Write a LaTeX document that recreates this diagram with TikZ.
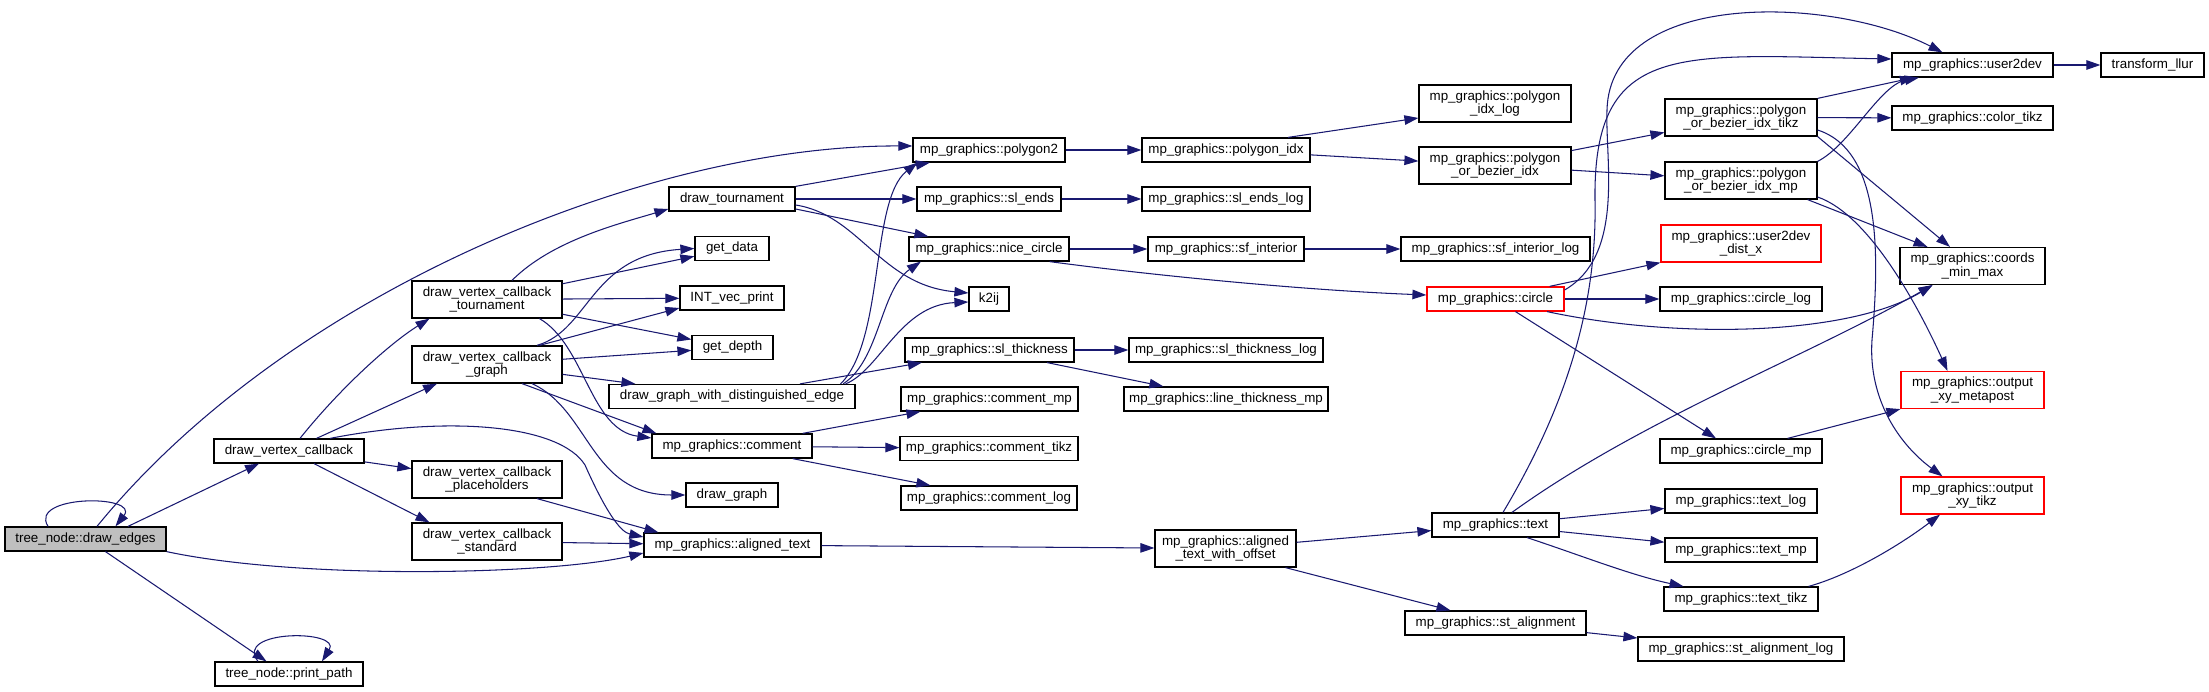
\documentclass[tikz,border=0pt]{standalone}
\usepackage{fontspec}
\setmainfont{Liberation Sans}
\usetikzlibrary{arrows.meta}
\definecolor{edgeblue}{HTML}{191970}
\begin{document}
\begin{tikzpicture}[
    x=0.02cm, y=-0.02cm,
    font=\fontsize{7.6}{7.7}\selectfont,
    func/.style={draw, line width=0.7pt, minimum height=0.48cm, inner xsep=0.08cm, inner ysep=0pt, fill=white},
    func2/.style={func, align=center, minimum height=0.74cm},
    cur/.style={func, fill=black!25},
    trunc/.style={func, draw=red},
    trunc2/.style={func2, draw=red},
    arr/.style={-{Triangle[length=0.28cm, width=0.19cm]}, line width=0.6pt, edgeblue}
]
\useasboundingbox (0,0) rectangle (2209,692);

\node[cur, minimum width=3.22cm] (de) at (85.5,539) {tree\_node::draw\_edges};
\node[func, minimum width=3cm] (dvc) at (289,451) {draw\_vertex\_callback};
\node[func, minimum width=2.96cm] (pp) at (289,674) {tree\_node::print\_path};
\node[func2, minimum width=3cm] (dvct) at (487,299.5) {draw\_vertex\_callback\\\_tournament};
\node[func2, minimum width=3cm] (dvcg) at (487,364.5) {draw\_vertex\_callback\\\_graph};
\node[func2, minimum width=3cm] (dvcp) at (487,479.5) {draw\_vertex\_callback\\\_placeholders};
\node[func2, minimum width=3cm] (dvcs) at (487,541.5) {draw\_vertex\_callback\\\_standard};
\node[func, minimum width=2.52cm] (tour) at (732,199) {draw\_tournament};
\node[func, minimum width=1.48cm] (gd) at (732,248.5) {get\_data};
\node[func, minimum width=2.08cm] (ivp) at (732,298) {INT\_vec\_print};
\node[func, minimum width=1.62cm] (gdep) at (732.5,347.5) {get\_depth};
\node[func, minimum width=4.92cm] (dgde) at (732,396.5) {draw\_graph\_with\_distinguished\_edge};
\node[func, minimum width=3.2cm] (com) at (732,446) {mp\_graphics::comment};
\node[func, minimum width=1.84cm] (dg) at (732,495) {draw\_graph};
\node[func, minimum width=3.54cm] (atxt) at (732.5,545) {mp\_graphics::aligned\_text};
\node[func, minimum width=3.04cm] (poly2) at (989,150) {mp\_graphics::polygon2};
\node[func, minimum width=2.88cm] (sle) at (989,199) {mp\_graphics::sl\_ends};
\node[func, minimum width=3.2cm] (nc) at (989,249) {mp\_graphics::nice\_circle};
\node[func, minimum width=0.8cm] (k2ij) at (989,299) {k2ij};
\node[func, minimum width=3.38cm] (slt) at (989.5,350) {mp\_graphics::sl\_thickness};
\node[func, minimum width=3.54cm] (cmp) at (989.5,399) {mp\_graphics::comment\_mp};
\node[func, minimum width=3.56cm] (ctikz) at (989,448.5) {mp\_graphics::comment\_tikz};
\node[func, minimum width=3.52cm] (clog) at (989,498) {mp\_graphics::comment\_log};
\node[func, minimum width=3.36cm] (pidx) at (1226,150) {mp\_graphics::polygon\_idx};
\node[func, minimum width=3.36cm] (slelog) at (1226,199) {mp\_graphics::sl\_ends\_log};
\node[func, minimum width=3.12cm] (sfi) at (1226,249) {mp\_graphics::sf\_interior};
\node[func, minimum width=3.88cm] (sltlog) at (1226,350) {mp\_graphics::sl\_thickness\_log};
\node[func, minimum width=4.08cm] (ltmp) at (1226,399) {mp\_graphics::line\_thickness\_mp};
\node[func2, minimum width=2.82cm] (atwo) at (1225.5,548.5) {mp\_graphics::aligned\\\_text\_with\_offset};
\node[func2, minimum width=3.04cm] (pidxlog) at (1495,103.5) {mp\_graphics::polygon\\\_idx\_log};
\node[func2, minimum width=3.04cm] (pobi) at (1495,165.5) {mp\_graphics::polygon\\\_or\_bezier\_idx};
\node[func, minimum width=3.78cm] (sfilog) at (1495.5,249) {mp\_graphics::sf\_interior\_log};
\node[trunc, minimum width=2.74cm] (circ) at (1495.5,299) {mp\_graphics::circle};
\node[func, minimum width=2.54cm] (txt) at (1495.5,525) {mp\_graphics::text};
\node[func, minimum width=3.62cm] (sta) at (1495.5,623) {mp\_graphics::st\_alignment};
\node[func2, minimum width=3.04cm] (pobitikz) at (1741,117.5) {mp\_graphics::polygon\\\_or\_bezier\_idx\_tikz};
\node[func2, minimum width=3.04cm] (pobimp) at (1741,180.5) {mp\_graphics::polygon\\\_or\_bezier\_idx\_mp};
\node[trunc2, minimum width=3.2cm] (u2ddx) at (1741,243.5) {mp\_graphics::user2dev\\\_dist\_x};
\node[func, minimum width=3.24cm] (clg) at (1741,299) {mp\_graphics::circle\_log};
\node[func, minimum width=3.24cm] (cmpc) at (1741,451) {mp\_graphics::circle\_mp};
\node[func, minimum width=3.04cm] (tlog) at (1741,501) {mp\_graphics::text\_log};
\node[func, minimum width=3.04cm] (tmp) at (1741,550) {mp\_graphics::text\_mp};
\node[func, minimum width=3.08cm] (ttikz) at (1741,599) {mp\_graphics::text\_tikz};
\node[func, minimum width=4.12cm] (stalog) at (1741,649) {mp\_graphics::st\_alignment\_log};
\node[func, minimum width=3.22cm] (u2d) at (1972.5,65) {mp\_graphics::user2dev};
\node[func, minimum width=3.22cm] (coltikz) at (1972.5,118) {mp\_graphics::color\_tikz};
\node[func2, minimum width=2.9cm] (cmm) at (1972.5,266) {mp\_graphics::coords\\\_min\_max};
\node[trunc2, minimum width=2.86cm] (oxymp) at (1972.5,390) {mp\_graphics::output\\\_xy\_metapost};
\node[trunc2, minimum width=2.86cm] (oxytikz) at (1972.5,495.5) {mp\_graphics::output\\\_xy\_tikz};
\node[func, minimum width=2.06cm] (tllur) at (2152.5,65) {transform\_llur};

\draw[arr] ([xshift=-0.75cm]de.north) .. controls +(-20,-32) and +(25,-32) .. ([xshift=0.6cm]de.north);
\draw[arr] ([xshift=0.23cm]de.north) .. controls (290,290) and (650,145) .. ([yshift=0.08cm]poly2.west);
\draw[arr] ([xshift=0.85cm]de.north) -- ([xshift=-0.6cm]dvc.south);
\draw[arr] (de.south east) .. controls (300,580) and (550,575) .. ([yshift=-0.16cm]atxt.west);
\draw[arr] ([xshift=0.4cm]de.south) -- ([xshift=-0.45cm]pp.north);
\draw[arr] ([xshift=-0.62cm]pp.north) .. controls +(-25,-32) and +(20,-32) .. ([xshift=0.66cm]pp.north);

\draw[arr] ([xshift=0.22cm]dvc.north) .. controls +(40,-50) and +(-40,25) .. ([xshift=-1.15cm]dvct.south);
\draw[arr] ([xshift=0.55cm]dvc.north) -- ([xshift=-1cm]dvcg.south);
\draw[arr] ([xshift=0.82cm]dvc.north) .. controls (450,415) and (560,425) .. (585,465) .. controls (605,510) and (620,532) .. ([yshift=0.16cm]atxt.west);
\draw[arr] (dvc) -- (dvcp);
\draw[arr] ([xshift=0.5cm]dvc.south) -- ([xshift=-1.15cm]dvcs.north);

\draw[arr] ([xshift=0.5cm]dvct.north) .. controls +(40,-40) and +(-50,15) .. ([yshift=-0.2cm]tour.west);
\draw[arr] (dvct) -- (gd);
\draw[arr] (dvct) -- (ivp);
\draw[arr] (dvct) -- (gdep);
\draw[arr] ([xshift=1.05cm]dvct.south) .. controls (585,345) and (590,430) .. ([yshift=0.16cm]com.west);

\draw[arr] ([xshift=1cm]dvcg.north) .. controls (590,330) and (590,255) .. (gd.west);
\draw[arr] ([xshift=1.05cm]dvcg.north) -- ([yshift=-0.2cm]ivp.west);
\draw[arr] (dvcg) -- (gdep);
\draw[arr] (dvcg) -- (dgde);
\draw[arr] ([xshift=0.7cm]dvcg.south) -- ([xshift=0.1cm]com.north west);
\draw[arr] ([xshift=0.9cm]dvcg.south) .. controls (590,410) and (590,495) .. (dg.west);
\draw[arr] ([xshift=1cm]dvcp.south) -- ([xshift=0.3cm]atxt.north west);
\draw[arr] (dvcs) -- (atxt);

\draw[arr] (tour.north east) -- ([xshift=0.35cm]poly2.south west);
\draw[arr] (tour) -- (sle);
\draw[arr] ([yshift=-0.2cm]tour.east) -- ([xshift=0.4cm]nc.north west);
\draw[arr] ([yshift=-0.12cm]tour.east) .. controls (860,215) and (880,285) .. ([yshift=0.12cm]k2ij.west);
\draw[arr] ([xshift=-0.3cm]dgde.north east) .. controls (885,340) and (870,200) .. ([xshift=0.1cm]poly2.south west);
\draw[arr] ([xshift=-0.25cm]dgde.north east) .. controls (880,360) and (880,290) .. ([xshift=0.25cm]nc.south west);
\draw[arr] ([xshift=-0.2cm]dgde.north east) .. controls (880,370) and (900,305) .. ([yshift=-0.06cm]k2ij.west);
\draw[arr] ([xshift=1.36cm]dgde.north) -- ([xshift=0.35cm]slt.south west);
\draw[arr] ([xshift=-0.2cm]com.north east) -- ([xshift=0.4cm]cmp.south west);
\draw[arr] (com) -- (ctikz);
\draw[arr] ([xshift=-0.4cm]com.south east) -- ([xshift=0.6cm]clog.north west);
\draw[arr] (atxt) -- (atwo);

\draw[arr] (poly2) -- (pidx);
\draw[arr] (sle) -- (slelog);
\draw[arr] (nc) -- (sfi);
\draw[arr] ([xshift=-0.4cm]nc.south east) .. controls (1150,275) and (1300,290) .. ([yshift=0.08cm]circ.west);
\draw[arr] (slt) -- (sltlog);
\draw[arr] ([xshift=-0.55cm]slt.south east) -- ([xshift=0.8cm]ltmp.north west);
\draw[arr] ([xshift=-0.45cm]pidx.north east) -- ([yshift=-0.29cm]pidxlog.west);
\draw[arr] (pidx) -- (pobi);
\draw[arr] (sfi) -- (sfilog);
\draw[arr] (pobi) -- (pobitikz);
\draw[arr] (pobi) -- (pobimp);

\draw[arr] ([xshift=-0.3cm]circ.north east) -- (u2ddx.south west);
\draw[arr] (circ) -- (clg);
\draw[arr] ([yshift=0.18cm]circ.east) .. controls (1625,255) and (1605,160) .. (1607,110) .. controls (1610,-10) and (1830,-5) .. ([xshift=-0.6cm]u2d.north);
\draw[arr] ([xshift=-0.35cm]circ.south east) .. controls (1680,340) and (1850,335) .. ([xshift=-0.8cm]cmm.south);
\draw[arr] ([xshift=0.4cm]circ.south) -- ([xshift=-0.5cm]cmpc.north);

\draw[arr] (pobitikz.north east) -- ([xshift=0.45cm]u2d.south west);
\draw[arr] (pobitikz) -- (coltikz);
\draw[arr] (pobitikz.south east) -- ([xshift=-0.45cm]cmm.north);
\draw[arr] ([yshift=-0.25cm]pobitikz.east) .. controls (1880,150) and (1880,250) .. (1872,340) .. controls (1868,400) and (1900,445) .. ([xshift=-0.6cm]oxytikz.north);
\draw[arr] (pobimp.north east) .. controls (1850,145) and (1880,85) .. ([xshift=0.55cm]u2d.south west);
\draw[arr] ([xshift=-0.2cm]pobimp.south east) -- ([xshift=-0.9cm]cmm.north);
\draw[arr] ([yshift=-0.33cm]pobimp.east) .. controls (1870,215) and (1920,310) .. ([xshift=-0.5cm]oxymp.north);
\draw[arr] (u2d) -- (tllur);

\draw[arr] ([xshift=0.15cm]txt.north) .. controls (1570,400) and (1597,300) .. (1595,200) .. controls (1593,40) and (1680,55) .. ([yshift=0.12cm]u2d.west);
\draw[arr] ([xshift=0.33cm]txt.north) .. controls (1640,420) and (1800,360) .. ([xshift=-0.8cm]cmm.south);
\draw[arr] (txt) -- (tlog);
\draw[arr] (txt) -- (tmp);
\draw[arr] ([xshift=0.63cm]txt.south) .. controls (1580,555) and (1630,575) .. ([xshift=-1.15cm]ttikz.north);
\draw[arr] (atwo) -- (txt);
\draw[arr] ([xshift=1.2cm]atwo.south) -- ([xshift=-0.9cm]sta.north);
\draw[arr] (sta) -- (stalog);
\draw[arr] ([xshift=-0.2cm]ttikz.north east) .. controls (1850,575) and (1900,545) .. ([xshift=-0.65cm]oxytikz.south);
\draw[arr] ([xshift=-0.7cm]cmpc.north east) -- (oxymp.south west);
\end{tikzpicture}
\end{document}
